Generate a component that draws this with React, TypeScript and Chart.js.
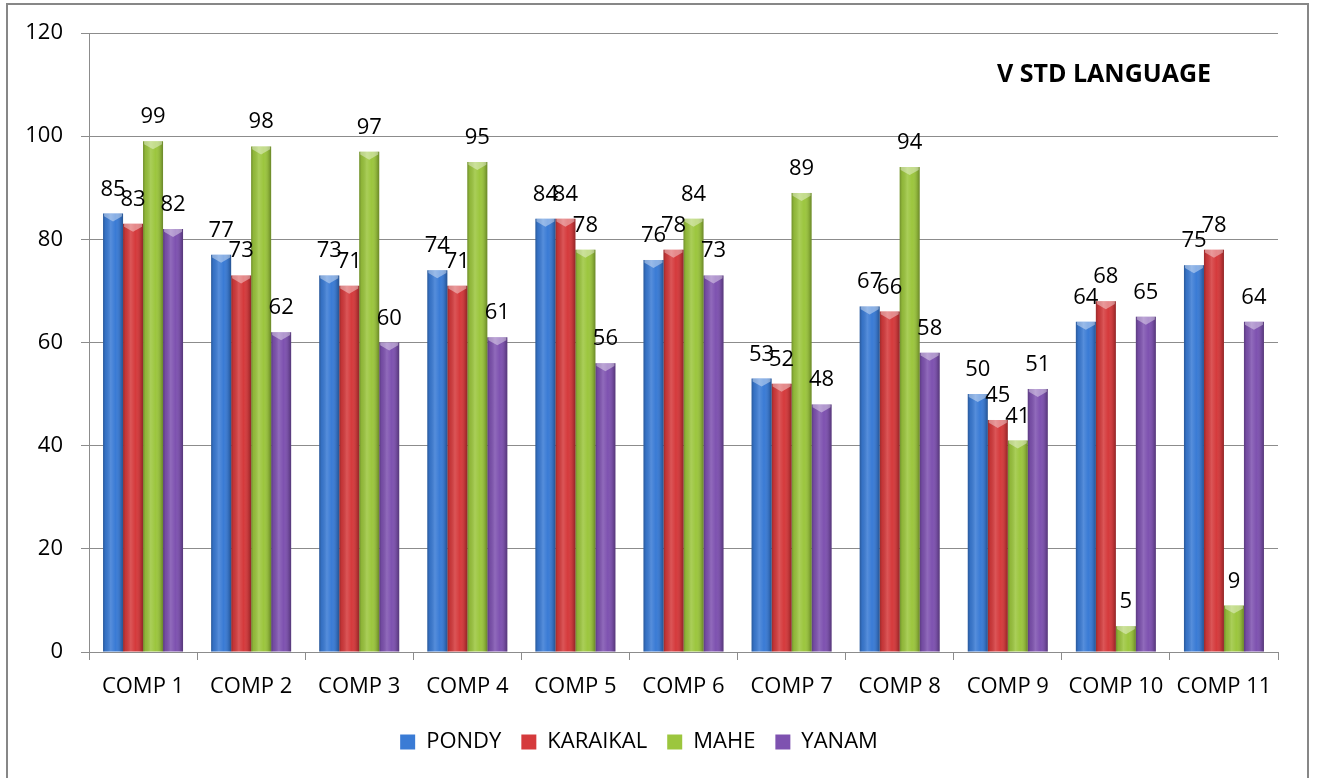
import React, { useEffect, useRef } from "react";
import { Chart, registerables } from "chart.js";

Chart.register(...registerables);

const categories = ["COMP 1", "COMP 2", "COMP 3", "COMP 4", "COMP 5", "COMP 6", "COMP 7", "COMP 8", "COMP 9", "COMP 10", "COMP 11"];
const pondy = [85, 77, 73, 74, 84, 76, 53, 67, 50, 64, 75];
const karaikal = [83, 73, 71, 71, 84, 78, 52, 66, 45, 68, 78];
const mahe = [99, 98, 97, 95, 78, 84, 89, 94, 41, 5, 9];
const yanam = [82, 62, 60, 61, 56, 73, 48, 58, 51, 65, 64];
const seriesNames = ["PONDY", "KARAIKAL", "MAHE", "YANAM"];
const seriesColors = ["#3a7bd5", "#d53a3c", "#9cc63e", "#7e52b0"];
const yTicks = [0, 20, 40, 60, 80, 100, 120];
const chartTitle = "V STD LANGUAGE";

const FONT = '"Open Sans", sans-serif';

const barStylePlugin = {
  id: "barStyle",
  afterDatasetsDraw(chart: any) {
    const ctx = chart.ctx;
    ctx.save();
    chart.data.datasets.forEach((ds: any, di: number) => {
      const meta = chart.getDatasetMeta(di);
      meta.data.forEach((el: any) => {
        const { x, y, base, width } = el.getProps(["x", "y", "base", "width"], true);
        const left = x - width / 2;
        const right = x + width / 2;
        const g = ctx.createLinearGradient(left, 0, right, 0);
        g.addColorStop(0, "rgba(0,0,0,0.28)");
        g.addColorStop(0.12, "rgba(0,0,0,0.08)");
        g.addColorStop(0.38, "rgba(255,255,255,0.14)");
        g.addColorStop(0.62, "rgba(255,255,255,0.0)");
        g.addColorStop(0.88, "rgba(0,0,0,0.14)");
        g.addColorStop(1, "rgba(0,0,0,0.32)");
        ctx.fillStyle = g;
        ctx.fillRect(left, y, width, base - y);
        // top cap highlight
        const h = Math.min(8, base - y);
        ctx.beginPath();
        ctx.moveTo(left + 1, y);
        ctx.lineTo(right - 1, y);
        ctx.lineTo(right - 1, y + h * 0.35);
        ctx.lineTo(x, y + h);
        ctx.lineTo(left + 1, y + h * 0.35);
        ctx.closePath();
        ctx.fillStyle = "rgba(255,255,255,0.4)";
        ctx.fill();
      });
    });
    // data labels
    ctx.font = "22px " + FONT;
    ctx.fillStyle = "#000";
    ctx.textAlign = "center";
    ctx.textBaseline = "alphabetic";
    chart.data.datasets.forEach((ds: any, di: number) => {
      const meta = chart.getDatasetMeta(di);
      meta.data.forEach((el: any, i: number) => {
        const { x, y } = el.getProps(["x", "y"], true);
        ctx.fillText(String(ds.data[i]), x, y - 18);
      });
    });
    ctx.restore();
  },
  afterDraw(chart: any) {
    const ctx = chart.ctx;
    ctx.save();
    ctx.font = "bold 25px " + FONT;
    ctx.fillStyle = "#000";
    ctx.textAlign = "center";
    ctx.textBaseline = "alphabetic";
    ctx.fillText(chartTitle, 1104, 82);
    ctx.strokeStyle = "#878787";
    ctx.lineWidth = 2;
    ctx.strokeRect(7, 4, 1301, 900);
    ctx.restore();
  },
};

export default function App() {
  const ref = useRef<HTMLCanvasElement | null>(null);
  useEffect(() => {
    if (!ref.current) return;
    const datasetsData = [pondy, karaikal, mahe, yanam];
    const chart = new Chart(ref.current, {
      type: "bar",
      data: {
        labels: categories,
        datasets: datasetsData.map((d, i) => ({
          label: seriesNames[i],
          data: d,
          backgroundColor: seriesColors[i],
          borderWidth: 0,
          categoryPercentage: 0.74,
          barPercentage: 1.0,
        })),
      },
      options: {
        animation: false,
        responsive: false,
        maintainAspectRatio: false,
        layout: { padding: { left: 0, right: 41, top: 33, bottom: 15 } },
        plugins: {
          legend: {
            position: "bottom",
            labels: {
              font: { family: FONT, size: 22 },
              color: "#000",
              boxWidth: 15,
              boxHeight: 15,
              padding: 20,
            },
          },
          title: { display: false },
          tooltip: { enabled: false },
        },
        scales: {
          x: {
            grid: {
              display: true,
              drawOnChartArea: false,
              drawTicks: true,
              tickLength: 8,
              offset: true,
              color: "#8c8c8c",
            },
            border: { display: true, color: "#8c8c8c", width: 1 },
            ticks: {
              font: { family: FONT, size: 22 },
              color: "#000",
              padding: 14,
              maxRotation: 0,
              autoSkip: false,
            },
            afterFit(scale: any) {
              scale.height = 59;
            },
          },
          y: {
            min: 0,
            max: 120,
            afterBuildTicks(scale: any) {
              scale.ticks = yTicks.map((v) => ({ value: v }));
            },
            grid: {
              color: "#8c8c8c",
              tickLength: 8,
              drawTicks: true,
            },
            border: { display: true, color: "#8c8c8c", width: 1 },
            ticks: {
              font: { family: FONT, size: 22 },
              color: "#000",
              padding: 18,
            },
            afterFit(scale: any) {
              scale.width = 89;
            },
          },
        },
      },
      plugins: [barStylePlugin],
    });
    return () => chart.destroy();
  }, []);
  return (
    <div style={{ position: "absolute", left: 0, top: 0, width: 1319, height: 778, overflow: "hidden", background: "#fff" }}>
      <canvas ref={ref} width={1319} height={778} style={{ width: 1319, height: 778, display: "block" }} />
    </div>
  );
}
